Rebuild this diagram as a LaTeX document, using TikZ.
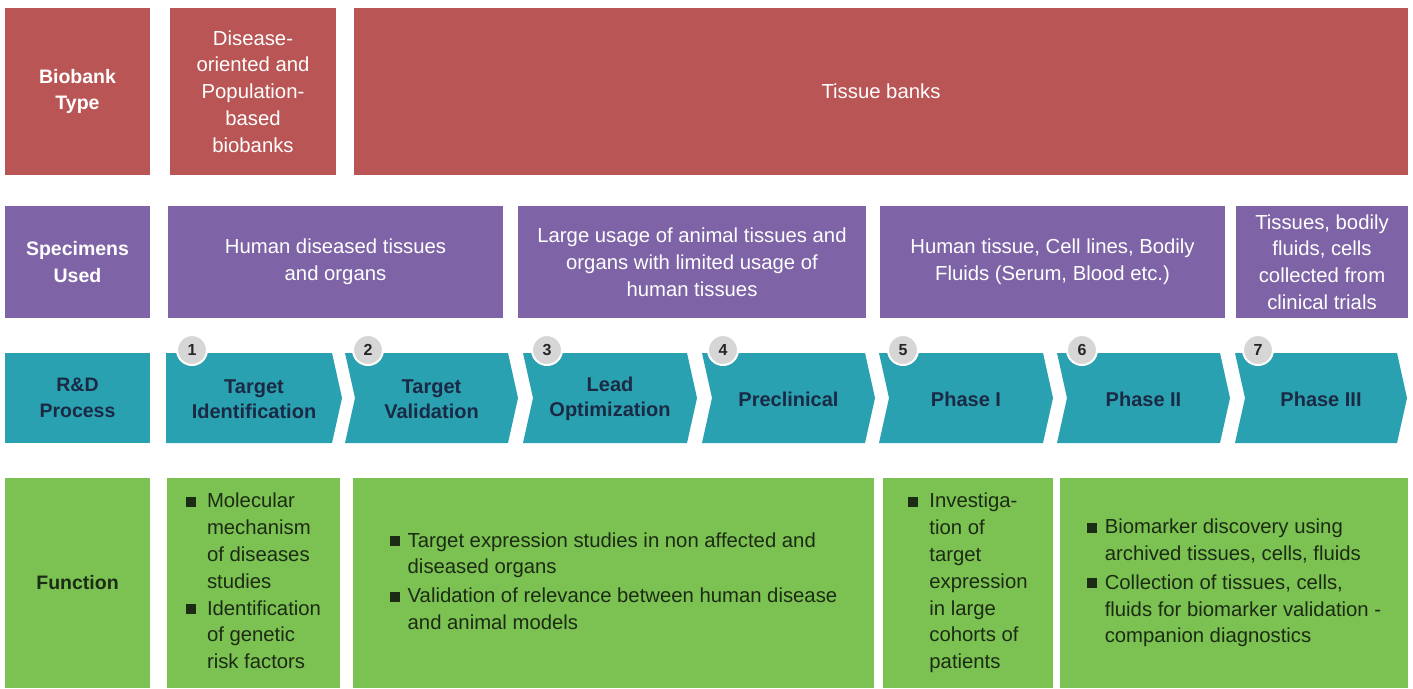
\documentclass[tikz,border=0pt]{standalone}
\usepackage{fontspec}
\setmainfont{Liberation Sans}
\definecolor{cred}{HTML}{BA5555}
\definecolor{cpurple}{HTML}{7E64A6}
\definecolor{cteal}{HTML}{2AA1B0}
\definecolor{cgreen}{HTML}{7CC252}
\definecolor{cnavy}{HTML}{1B2A44}
\definecolor{cdark}{HTML}{1C2B14}
\definecolor{ccirc}{HTML}{D6D6D6}
\newcommand{\sqb}{\rule[1pt]{10pt}{10pt}}
\newcommand{\mychev}[5]{%
  \fill[cteal] (#2,353) -- ({#3-10},353) -- (#3,398) -- ({#3-10},443) -- (#2,443) -- ({#2+#4},398) -- cycle;
  \node[chevtext] (#1) at ({(#2+#3)/2},399) {#5};}
\begin{document}
\begin{tikzpicture}[x=1pt,y=-1pt,
  every node/.style={font=\fontsize{20.3}{26.8}\selectfont, align=center, inner sep=0pt},
  cell/.style={rectangle, draw=none},
  redcell/.style={cell, fill=cred, text=white, minimum height=167pt},
  purcell/.style={cell, fill=cpurple, text=white, minimum height=112pt},
  tealcell/.style={cell, fill=cteal, text=cnavy, minimum height=90pt},
  grncell/.style={cell, fill=cgreen, text=cdark, minimum height=210pt},
  lbl/.style={font=\bfseries\fontsize{19.5}{26.5}\selectfont, minimum width=145pt},
  chevtext/.style={text=cnavy, font=\bfseries\fontsize{20}{25.5}\selectfont},
  numc/.style={circle, fill=ccirc, draw=white, line width=2pt, minimum size=30pt, text=black!85, font=\bfseries\fontsize{16}{16}\selectfont}
]
\useasboundingbox (0,0) rectangle (1413,688);
\fill[white] (0,0) rectangle (1413,688);
% Row 1
\node[redcell, lbl] (bt) at (77.5,91.5) {Biobank\\Type};
\node[redcell, minimum width=166pt] (r2) at (253,91.5) {Disease-\\oriented and\\Population-\\based\\biobanks};
\node[redcell, minimum width=1054pt] (r3) at (881,91.5) {Tissue banks};
% Row 2
\node[purcell, lbl] (su) at (77.5,262) {Specimens\\Used};
\node[purcell, minimum width=335pt] (p2) at (335.5,262) {Human diseased tissues\\and organs};
\node[purcell, minimum width=348pt] (p3) at (692,262) {Large usage of animal tissues and\\organs with limited usage of\\human tissues};
\node[purcell, minimum width=345pt] (p4) at (1052.5,262) {Human tissue, Cell lines, Bodily\\Fluids (Serum, Blood etc.)};
\node[purcell, minimum width=172pt] (p5) at (1322,262) {Tissues, bodily\\fluids, cells\\collected from\\clinical trials};
% Row 3
\node[tealcell, lbl] (rd) at (77.5,398) {R\&D\\Process};
\mychev{c1}{166}{342}{0}{Target\\Identification}
\mychev{c2}{345}{518}{10}{Target\\Validation}
\mychev{c3}{523}{697}{10}{Lead\\Optimization}
\mychev{c4}{702}{875}{10}{Preclinical}
\mychev{c5}{879}{1053}{10}{Phase I}
\mychev{c6}{1057}{1230}{10}{Phase II}
\mychev{c7}{1235}{1407}{10}{Phase III}
\node[numc] (n1) at (192,350) {1};
\node[numc] (n2) at (368,350) {2};
\node[numc] (n3) at (547,350) {3};
\node[numc] (n4) at (723,350) {4};
\node[numc] (n5) at (903,350) {5};
\node[numc] (n6) at (1082,350) {6};
\node[numc] (n7) at (1258,350) {7};
% Row 4
\node[grncell, lbl] (fn) at (77.5,583) {Function};
\node[grncell, minimum width=173pt] (g2) at (253.5,583) {\begin{tabular}{@{}p{21pt}@{}l@{}}
\sqb & Molecular\\ & mechanism\\ & of diseases\\ & studies\\
\sqb & Identification\\ & of genetic\\ & risk factors\end{tabular}};
\node[grncell, minimum width=521pt] (g3) at (613.5,583) {\begin{tabular}{@{}p{18pt}@{}l@{}}
\sqb & Target expression studies in non affected and\\ & diseased organs\\[2pt]
\sqb & Validation of relevance between human disease\\ & and animal models\end{tabular}};
\node[grncell, minimum width=170pt] (g4) at (968,583) {\begin{tabular}{@{}p{21pt}@{}l@{}}
\sqb & Investiga-\\ & tion of\\ & target\\ & expression\\ & in large\\ & cohorts of\\ & patients\end{tabular}};
\node[grncell, minimum width=348pt] (g5) at (1234,583) {\begin{tabular}{@{}p{18pt}@{}l@{}}
\sqb & Biomarker discovery using\\ & archived tissues, cells, fluids\\[2pt]
\sqb & Collection of tissues, cells,\\ & fluids for biomarker validation -\\ & companion diagnostics\end{tabular}};
\end{tikzpicture}
\end{document}
